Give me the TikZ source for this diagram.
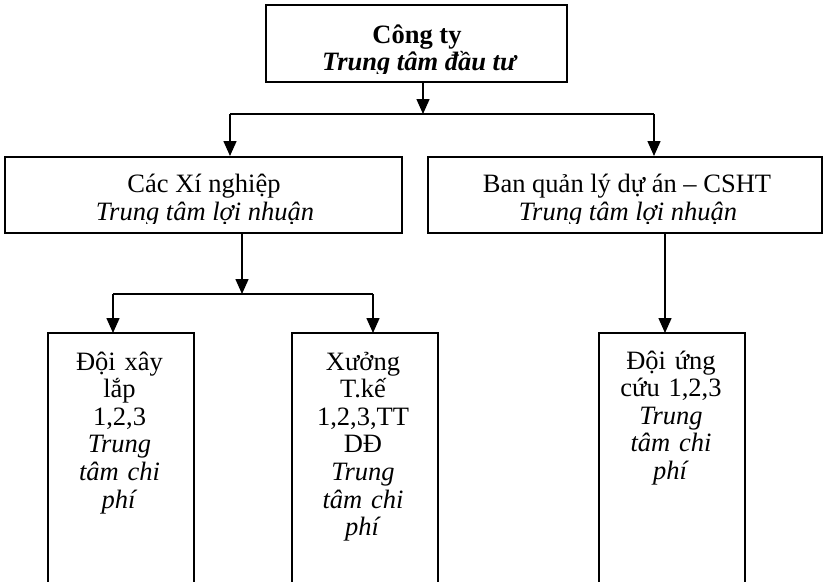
\documentclass[tikz,border=0pt]{standalone}
\usepackage{fontspec}
\setmainfont{Liberation Serif}
\usetikzlibrary{arrows.meta}
\newcommand\fsz{\fontsize{26.5}{27.6}\selectfont}
\tikzset{
  box/.style={draw, line width=2pt, inner sep=0pt},
  ghost/.style={inner sep=0pt, anchor=north},
  frame/.style={line width=2pt},
  txt/.style={inner sep=0pt, font=\fsz, anchor=base},
  col/.style={inner sep=0pt, font=\fsz, anchor=base, align=center, text width=146pt},
  link/.style={line width=1.5pt},
  arr/.style={line width=1.5pt, -{Triangle[width=13pt,length=15pt]}},
}
\begin{document}
\begin{tikzpicture}[x=1pt,y=-1pt]
\useasboundingbox (0,0) rectangle (824,581);
% boxes
\node[box, minimum width=301pt, minimum height=77pt] (cty) at (416.5,43.5) {};
\node[box, minimum width=397pt, minimum height=76pt] (xn) at (203.5,195) {};
\node[box, minimum width=394pt, minimum height=76pt] (bq) at (625,195) {};
\node[ghost, minimum width=146pt, minimum height=250pt] (d1) at (121,333) {};
\node[ghost, minimum width=146pt, minimum height=250pt] (d2) at (365,333) {};
\node[ghost, minimum width=146pt, minimum height=250pt] (d3) at (672,333) {};
\draw[frame] (d1.south west) -- (d1.north west) -- (d1.north east) -- (d1.south east);
\draw[frame] (d2.south west) -- (d2.north west) -- (d2.north east) -- (d2.south east);
\draw[frame] (d3.south west) -- (d3.north west) -- (d3.north east) -- (d3.south east);
% texts of top box (clipped as in the reference)
\begin{scope}
\clip (0,0) rectangle (824,73.5);
\node[txt, font=\fsz\bfseries] (t1) at (417,43) {Công ty};
\node[txt, font=\fsz\bfseries\itshape] (t2) at (419,70) {Trung tâm đầu tư};
\end{scope}
% texts of middle boxes
\begin{scope}
\clip (0,0) rectangle (824,223.5);
\node[txt] (x1) at (204,192) {Các Xí nghiệp};
\node[txt, font=\fsz\itshape] (x2) at (205,220) {Trung tâm lợi nhuận};
\node[txt] (b1) at (627,192) {Ban quản lý dự án – CSHT};
\node[txt, font=\fsz\itshape] (b2) at (628,220) {Trung tâm lợi nhuận};
\end{scope}
% texts of bottom boxes
\node[col] (c1) at (119.5,370) {Đội xây\\lắp\\1,2,3\\\textit{Trung}\\\textit{tâm chi}\\\textit{phí}};
\node[col] (c2) at (363,370) {Xưởng\\T.kế\\1,2,3,TT\\DĐ\\\textit{Trung}\\\textit{tâm chi}\\\textit{phí}};
\node[col] (c3) at (671,369) {Đội ứng\\cứu 1,2,3\\\textit{Trung}\\\textit{tâm chi}\\\textit{phí}};
% connectors
\coordinate (j1) at (423,114);
\coordinate (hl) at (230,114);
\coordinate (hr) at (654,114);
\draw[arr] (j1 |- cty.south) -- (j1);
\draw[link] (hl) -- (hr);
\draw[arr] (hl) -- (hl |- xn.north);
\draw[arr] (hr) -- (hr |- bq.north);
\coordinate (j2) at (242,294);
\coordinate (kl) at (113,294);
\coordinate (kr) at (373,294);
\draw[arr] (j2 |- xn.south) -- (j2);
\draw[link] (kl) -- (kr);
\draw[arr] (kl) -- (kl |- d1.north);
\draw[arr] (kr) -- (kr |- d2.north);
\coordinate (j3) at (665,0);
\draw[arr] (j3 |- bq.south) -- (j3 |- d3.north);
\end{tikzpicture}
\end{document}
